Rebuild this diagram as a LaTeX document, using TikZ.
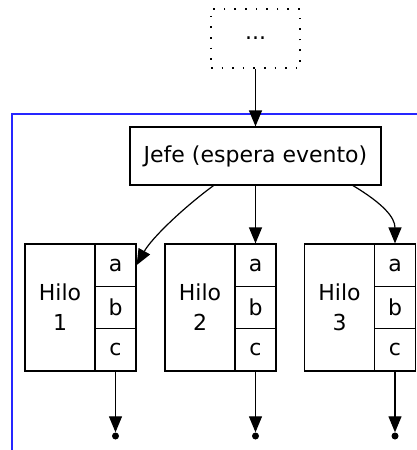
\documentclass[tikz,border=0pt]{standalone}
\usepackage{fontspec}
\setmainfont{DejaVu Sans}
\usetikzlibrary{arrows.meta}
\tikzstyle{punteado} = [rectangle, draw=black, line width=1.8pt, dash pattern=on 1.6pt off 9pt, minimum width=89pt, minimum height=59pt, inner sep=0pt]
\tikzstyle{proceso} = [rectangle, draw=black, line width=1.2pt, minimum width=251pt, minimum height=58pt, inner sep=0pt]
\tikzstyle{hilo} = [rectangle, draw=black, line width=1.2pt, minimum width=70pt, minimum height=127pt, inner sep=0pt, align=center]
\tikzstyle{celda} = [rectangle, draw=black, line width=1.2pt, minimum width=41pt, minimum height=42.33pt, inner sep=0pt]
\tikzstyle{fin} = [circle, fill=black, minimum size=7pt, inner sep=0pt]
\tikzstyle{arrow} = [line width=1.2pt, -{Triangle[length=16pt,width=13pt]}]

\begin{document}
\begin{tikzpicture}[x=1pt, y=-1pt, every node/.style={font=\fontsize{22}{30}\selectfont}]
\useasboundingbox (0,0) rectangle (417,450);
% grupo (cluster)
\draw [blue!85!white, line width=1.2pt] (12,450) -- (12,114) -- (417,114);

\node (dots) [punteado] at (255.5,38.5) {...};
\node (jefe) [proceso] at (255.5,156) {Jefe (espera evento)};

\node (hilo1) [hilo] at (60,307.5) {Hilo\\1};
\node (h1a) [celda] at (115.5,265.17) {a};
\node (h1b) [celda] at (115.5,307.5) {b};
\node (h1c) [celda] at (115.5,349.83) {c};

\node (hilo2) [hilo] at (200,307.5) {Hilo\\2};
\node (h2a) [celda] at (255.5,265.17) {a};
\node (h2b) [celda] at (255.5,307.5) {b};
\node (h2c) [celda] at (255.5,349.83) {c};

\node (hilo3) [hilo] at (339.5,307.5) {Hilo\\3};
\node (h3a) [celda] at (395,265.17) {a};
\node (h3b) [celda] at (395,307.5) {b};
\node (h3c) [celda] at (395,349.83) {c};

\node (fin1) [fin] at (115.5,436) {};
\node (fin2) [fin] at (255.5,436) {};
\node (fin3) [fin] at (395,436) {};

\draw [arrow] (dots) -- (jefe);
\draw [arrow] ([xshift=-42pt]jefe.south) .. controls +(-30,22) and +(15,-27) .. (h1a.east);
\draw [arrow] (jefe.south) -- (h2a.north);
\draw [arrow] ([xshift=97.5pt]jefe.south) .. controls +(30,18) and +(0,-26) .. (h3a.north);

\draw [arrow] (h1c) -- (fin1);
\draw [arrow] (h2c) -- (fin2);
\draw [arrow] (h3c) -- (fin3);

\end{tikzpicture}
\end{document}
